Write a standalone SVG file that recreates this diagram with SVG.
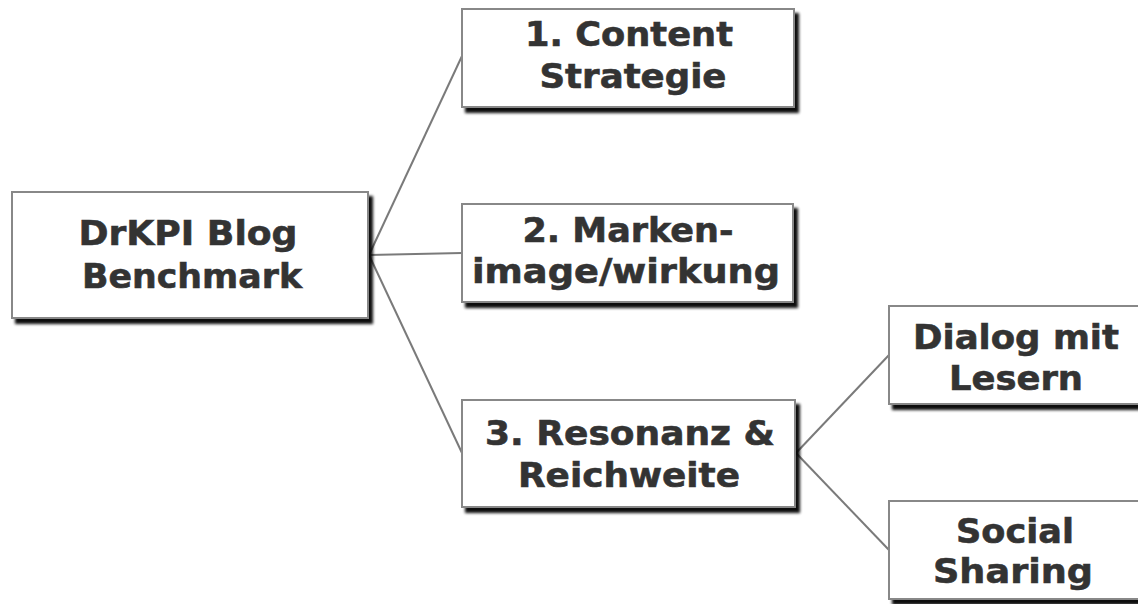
<svg xmlns="http://www.w3.org/2000/svg" width="1138" height="604" viewBox="0 0 1138 604">
<defs>
<filter id="sh" x="-10%" y="-10%" width="130%" height="130%">
<feGaussianBlur in="SourceAlpha" stdDeviation="1.8"/>
<feOffset dx="4" dy="5" result="b"/>
<feComponentTransfer><feFuncA type="linear" slope="0.95"/></feComponentTransfer>
<feMerge><feMergeNode/><feMergeNode in="SourceGraphic"/></feMerge>
</filter>
<style>
.box{fill:#fff;stroke:#888;stroke-width:2;filter:url(#sh)}
.t{font-family:"DejaVu Sans",Verdana,sans-serif;font-weight:bold;font-size:34px;fill:#333;stroke:#333;stroke-width:0.6;text-anchor:middle}
.c{stroke:#7a7a7a;stroke-width:2;fill:none}
</style>
</defs>
<rect width="1138" height="604" fill="#fff"/>
<g id="connectors">
<line class="c" x1="369" y1="255" x2="462" y2="56"/>
<line class="c" x1="369" y1="255" x2="462" y2="253"/>
<line class="c" x1="369" y1="255" x2="462" y2="453"/>
<line class="c" x1="796" y1="453" x2="889" y2="355"/>
<line class="c" x1="796" y1="453" x2="889" y2="550"/>
</g>
<g id="root">
<rect class="box" x="12" y="192" width="356" height="126"/>
<text class="t" x="188" y="245" textLength="219" lengthAdjust="spacingAndGlyphs">DrKPI Blog</text>
<text class="t" x="192" y="288" textLength="220" lengthAdjust="spacingAndGlyphs">Benchmark</text>
</g>
<g id="n1">
<rect class="box" x="462" y="9" width="332" height="98"/>
<text class="t" x="629" y="46" textLength="208" lengthAdjust="spacingAndGlyphs">1. Content</text>
<text class="t" x="633" y="88" textLength="187" lengthAdjust="spacingAndGlyphs">Strategie</text>
</g>
<g id="n2">
<rect class="box" x="462" y="204" width="331" height="98"/>
<text class="t" x="628" y="242" textLength="211" lengthAdjust="spacingAndGlyphs">2. Marken-</text>
<text class="t" x="626" y="283" textLength="308" lengthAdjust="spacingAndGlyphs">image/wirkung</text>
</g>
<g id="n3">
<rect class="box" x="462" y="400" width="333" height="107"/>
<text class="t" x="630" y="445" textLength="290" lengthAdjust="spacingAndGlyphs">3. Resonanz &amp;</text>
<text class="t" x="629" y="487" textLength="222" lengthAdjust="spacingAndGlyphs">Reichweite</text>
</g>
<g id="n4">
<rect class="box" x="889" y="306" width="260" height="98"/>
<text class="t" x="1016" y="349" textLength="206" lengthAdjust="spacingAndGlyphs">Dialog mit</text>
<text class="t" x="1016" y="390" textLength="134" lengthAdjust="spacingAndGlyphs">Lesern</text>
</g>
<g id="n5">
<rect class="box" x="889" y="501" width="260" height="98"/>
<text class="t" x="1015" y="543" textLength="118" lengthAdjust="spacingAndGlyphs">Social</text>
<text class="t" x="1013" y="583" textLength="160" lengthAdjust="spacingAndGlyphs">Sharing</text>
</g>
</svg>
